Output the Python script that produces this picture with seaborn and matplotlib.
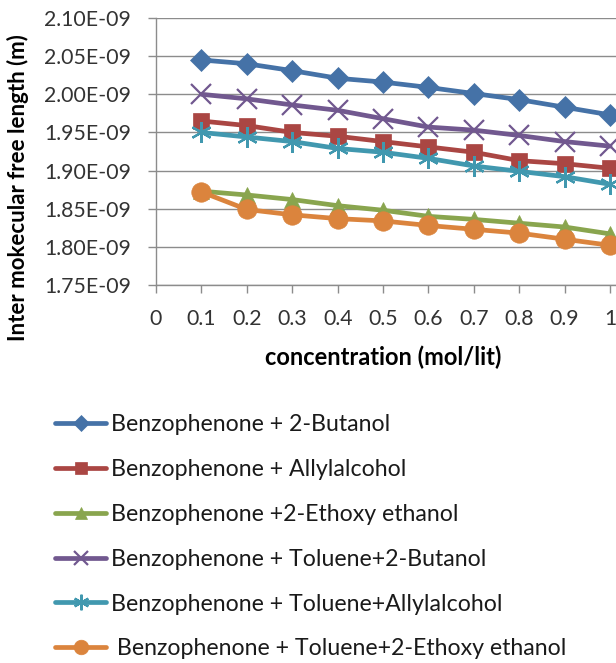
import matplotlib
matplotlib.use("Agg")
import matplotlib.pyplot as plt
import seaborn as sns
import pandas as pd
from matplotlib.ticker import FixedLocator, FuncFormatter

# Concentration (mol/lit)
concentration = [0.1, 0.2, 0.3, 0.4, 0.5, 0.6, 0.7, 0.8, 0.9, 1.0]

# Inter molecular free length, in units of 1E-09 m
benz_2butanol = [2.045, 2.040, 2.031, 2.021, 2.016, 2.009, 2.001, 1.993, 1.983, 1.973]
benz_allylalcohol = [1.965, 1.959, 1.950, 1.945, 1.938, 1.931, 1.924, 1.913, 1.909, 1.903]
benz_2ethoxyethanol = [1.873, 1.868, 1.862, 1.854, 1.848, 1.840, 1.836, 1.831, 1.826, 1.817]
benz_tol_2butanol = [2.000, 1.994, 1.986, 1.979, 1.968, 1.957, 1.953, 1.946, 1.938, 1.932]
benz_tol_allylalcohol = [1.950, 1.944, 1.938, 1.929, 1.924, 1.916, 1.906, 1.899, 1.892, 1.882]
benz_tol_2ethoxyethanol = [1.872, 1.849, 1.842, 1.837, 1.834, 1.828, 1.823, 1.818, 1.810, 1.802]

series_labels = [
    "Benzophenone + 2-Butanol",
    "Benzophenone + Allylalcohol",
    "Benzophenone +2-Ethoxy ethanol",
    "Benzophenone + Toluene+2-Butanol",
    "Benzophenone + Toluene+Allylalcohol",
    " Benzophenone + Toluene+2-Ethoxy ethanol",
]
series_values = [benz_2butanol, benz_allylalcohol, benz_2ethoxyethanol,
                 benz_tol_2butanol, benz_tol_allylalcohol, benz_tol_2ethoxyethanol]

x_tick_values = [0, 0.1, 0.2, 0.3, 0.4, 0.5, 0.6, 0.7, 0.8, 0.9, 1.0]
x_tick_labels = ["0", "0.1", "0.2", "0.3", "0.4", "0.5", "0.6", "0.7", "0.8", "0.9", "1"]
y_tick_values = [1.75, 1.80, 1.85, 1.90, 1.95, 2.00, 2.05, 2.10]

colors = ["#4572A7", "#AA4643", "#89A54E", "#71588F", "#4198AF", "#DB843D"]
markers = ["D", "s", "^", "x", (6, 2, 0), "o"]
msizes = [11, 12, 11, 14, 15, 14]

sns.set_style("white")
plt.rcParams["font.family"] = ["Lato", "DejaVu Sans"]

rows = []
for lab, vals in zip(series_labels, series_values):
    for c, v in zip(concentration, vals):
        rows.append({"concentration": c, "value": v, "series": lab})
df = pd.DataFrame(rows)

fig = plt.figure(figsize=(6.16, 6.63), dpi=100)
ax = fig.add_axes([156 / 616, 1 - 285 / 663, 460 / 616, 267 / 663])

for lab, col, mk, ms in zip(series_labels, colors, markers, msizes):
    sub = df[df["series"] == lab]
    sns.lineplot(data=sub, x="concentration", y="value", ax=ax, color=col,
                 linewidth=3.4, marker=mk, markersize=ms,
                 markeredgecolor=col, markeredgewidth=1.6 if mk in ("x", (6, 2, 0)) else 0.5,
                 label=lab, clip_on=False, zorder=3)

ax.set_xlim(0, 1.013)
ax.set_ylim(1.75, 2.10)
ax.xaxis.set_major_locator(FixedLocator(x_tick_values))
ax.set_xticklabels(x_tick_labels)
ax.yaxis.set_major_locator(FixedLocator(y_tick_values))
ax.yaxis.set_major_formatter(FuncFormatter(lambda v, p: f"{v:.2f}E-09"))

ax.grid(axis="y", color="#8c8c8c", linewidth=1.0)
ax.grid(axis="x", visible=False)
ax.set_axisbelow(True)
for s in ("top", "right"):
    ax.spines[s].set_visible(False)
for s in ("left", "bottom"):
    ax.spines[s].set_color("#8c8c8c")
    ax.spines[s].set_linewidth(1.0)

ax.tick_params(axis="y", direction="out", length=6, width=1, color="#8c8c8c",
               pad=12, labelsize=15.3, labelcolor="#333333", left=True)
ax.tick_params(axis="x", direction="out", length=6, width=1, color="#8c8c8c",
               pad=11, labelsize=15.3, labelcolor="#333333", bottom=True)

ax.set_xlabel("")
ax.set_ylabel("")
fig.text(383 / 616, 1 - 357 / 663, "concentration (mol/lit)", ha="center", va="center",
         fontsize=17, fontweight="bold", color="black")
fig.text(18 / 616, 1 - 188 / 663, "Inter mokecular free length (m)", ha="center",
         va="center", rotation=90, fontsize=16, fontweight="bold", color="black")

handles, labels = ax.get_legend_handles_labels()
if ax.legend_:
    ax.legend_.remove()
leg = fig.legend(handles, labels, loc="upper left",
                 bbox_to_anchor=(55 / 616, 1 - 414 / 663),
                 frameon=False, fontsize=16.7, handlelength=2.2, handletextpad=0.22,
                 labelspacing=1.03, markerscale=0.75, borderaxespad=0, borderpad=0)
for t in leg.get_texts():
    t.set_color("#1a1a1a")

fig.savefig("out.png", dpi=100)
